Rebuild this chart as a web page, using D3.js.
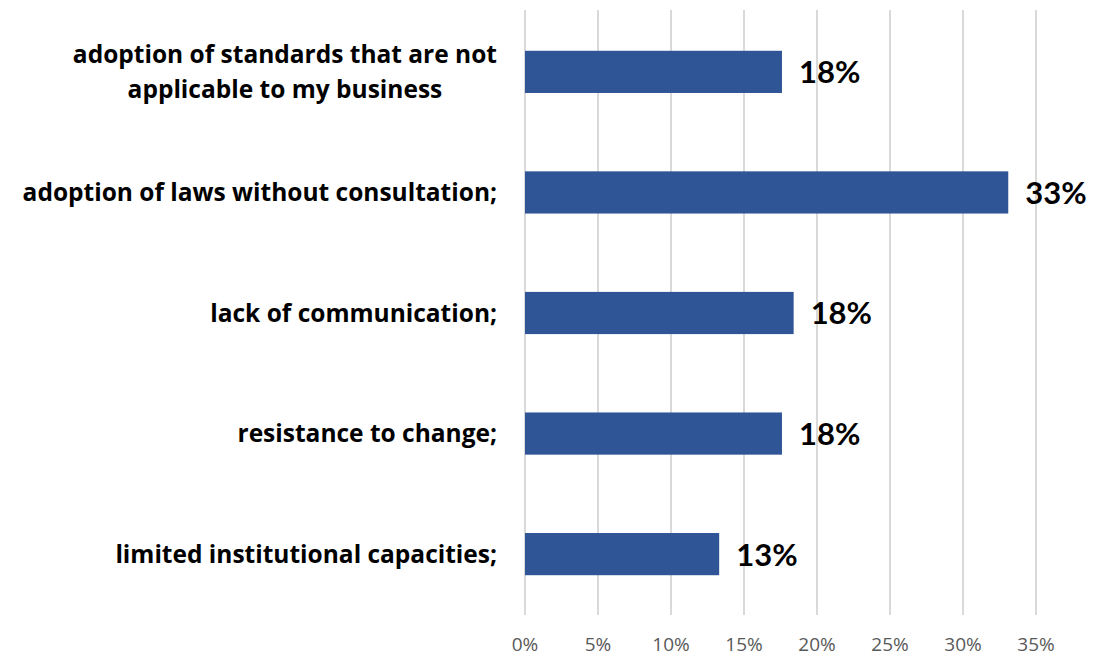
<!DOCTYPE html>
<html>
<head>
<meta charset="utf-8">
<script src="https://cdn.jsdelivr.net/npm/d3@7"></script>
<style>
  body { margin: 0; background: #fff; }
  text { font-family: Lato, "Open Sans", sans-serif; }
</style>
</head>
<body>
<svg width="1102" height="658"></svg>
<script>
// Categories, top to bottom
let categories = [
    ["adoption of standards that are not", "applicable to my business"],
    ["adoption of laws without consultation;"],
    ["lack of communication;"],
    ["resistance to change;"],
    ["limited institutional capacities;"]
];
let values = [17.6, 33.1, 18.4, 17.6, 13.3];
let valueLabels = ["18%", "33%", "18%", "18%", "13%"];
let ticks = [0, 5, 10, 15, 20, 25, 30, 35];

let svg = d3.select("svg"),
    width = +svg.attr("width"),
    height = +svg.attr("height");

let x = d3.scaleLinear()
    .domain([0, 35])
    .range([525, 1036]);

let y = d3.scaleBand()
    .domain(d3.range(categories.length))
    .range([11, 615])
    .paddingInner(0.65)
    .paddingOuter(0.33);

// Gridlines
svg.selectAll("line.grid")
    .data(ticks)
    .enter().append("line")
    .attr("class", "grid")
    .attr("x1", d => x(d))
    .attr("x2", d => x(d))
    .attr("y1", 10)
    .attr("y2", 615)
    .style("stroke", "#d9d9d9")
    .style("stroke-width", 2);

// Tick labels
svg.selectAll("text.tick")
    .data(ticks)
    .enter().append("text")
    .attr("class", "tick")
    .attr("x", d => x(d))
    .attr("y", 651)
    .attr("text-anchor", "middle")
    .style("font-family", "'Open Sans', sans-serif")
    .style("font-size", "19px")
    .style("fill", "#595959")
    .text(d => d + "%");

// Bars
svg.selectAll("rect")
    .data(values)
    .enter().append("rect")
    .attr("x", x(0))
    .attr("y", (d, i) => y(i))
    .attr("width", d => x(d) - x(0))
    .attr("height", y.bandwidth())
    .style("fill", "#2f5597");

// Value labels
svg.selectAll("text.value")
    .data(values)
    .enter().append("text")
    .attr("class", "value")
    .attr("x", d => x(d) + 17)
    .attr("y", (d, i) => y(i) + y.bandwidth() / 2)
    .attr("dy", "0.37em")
    .style("font-size", "31px")
    .style("font-weight", "bold")
    .style("fill", "#000")
    .text((d, i) => valueLabels[i]);

// Category labels: lines centred within a right-aligned block
let labelRight = 497;
let lineHeight = 35;
categories.forEach(function(lines, i) {
    let g = svg.append("g");
    let cy = y(i) + y.bandwidth() / 2;
    let texts = lines.map(function(line, j) {
        return g.append("text")
            .attr("y", cy + (j - (lines.length - 1) / 2) * lineHeight)
            .attr("dy", "0.35em")
            .attr("text-anchor", "middle")
            .style("font-family", "'Open Sans', sans-serif")
            .style("font-size", "24.5px")
            .style("font-weight", "bold")
            .style("fill", "#000")
            .text(line);
    });
    let maxW = d3.max(texts, t => t.node().getComputedTextLength());
    texts.forEach(t => t.attr("x", labelRight - maxW / 2));
});
</script>
</body>
</html>
